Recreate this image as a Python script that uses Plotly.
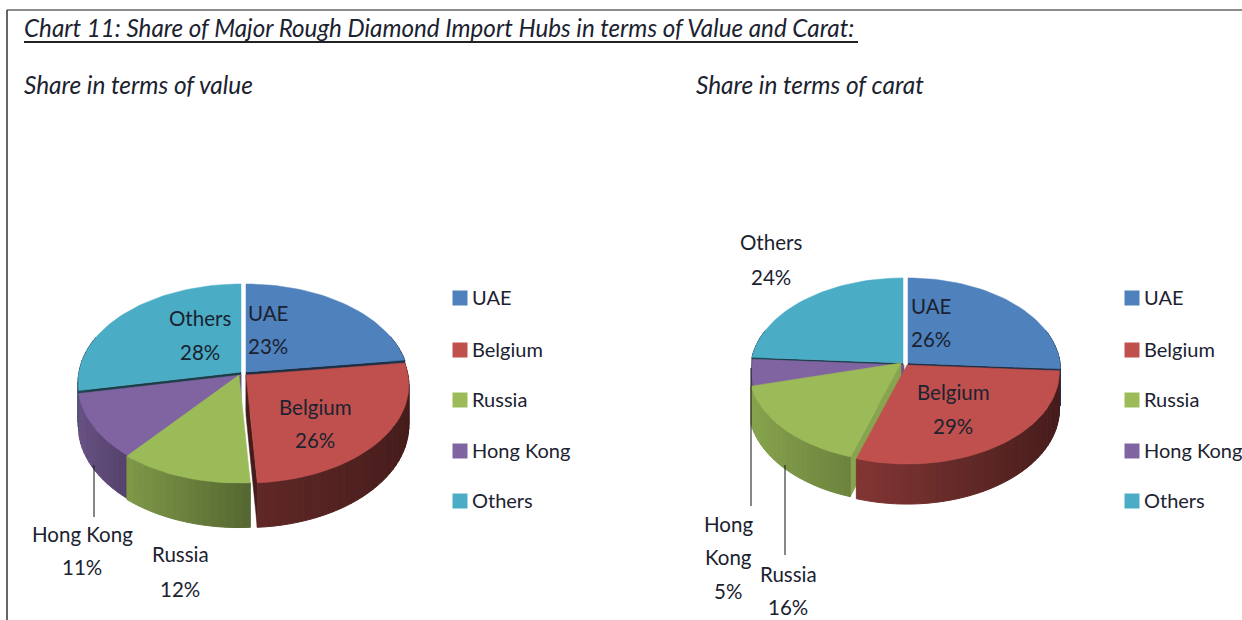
import math
import plotly.graph_objects as go

categories = ["UAE", "Belgium", "Russia", "Hong Kong", "Others"]
value_share = [23, 26, 12, 11, 28]
carat_share = [26, 29, 16, 5, 24]

COLORS = {"UAE": "#4F81BD", "Belgium": "#C0504D", "Russia": "#9BBB59",
          "Hong Kong": "#8064A2", "Others": "#4BACC6"}
TEXT = "#1b2230"
FONT = "Lato"
LABEL_SIZE = 20.5

PIES = [
    dict(shares=value_share, cx=244, cy=373, rx=162, ry=97, depth=40, k=0.102,
         offset={"UAE": (2, -1), "Belgium": (2, 2), "Russia": (-5, 2), "Hong Kong": (-3, 2), "Others": (-3, -1)},
         wall={"Belgium": (0.50, 0.36), "Russia": (0.82, 0.55), "Hong Kong": (0.82, 0.66)}),
    dict(shares=carat_share, cx=905, cy=364, rx=152, ry=91.5, depth=37, k=0.076,
         offset={"UAE": (3, -1), "Belgium": (2, 1), "Russia": (-4, -1), "Hong Kong": (-1, 1), "Others": (-2, -1)},
         wall={"Belgium": (0.68, 0.36), "Russia": (0.88, 0.70), "Hong Kong": (0.85, 0.7)}),
]
DRAW_ORDER = ["Others", "UAE", "Hong Kong", "Russia", "Belgium"]


def shade(color, f):
    r, g, b = (int(color[i:i + 2], 16) for i in (1, 3, 5))
    return f"rgb({int(r * f)},{int(g * f)},{int(b * f)})"


def project(p, ang, radius=1.0, off=(0, 0), drop=0.0):
    u, v = math.sin(ang) * radius, -math.cos(ang) * radius
    s = 1 / (1 - p["k"] * v)
    return (p["cx"] + off[0] + p["rx"] * u * s,
            p["cy"] + off[1] + p["ry"] * v * s + drop * s)


fig = go.Figure()


def poly(pts, color, width=1.0):
    fig.add_trace(go.Scatter(x=[q[0] for q in pts] + [pts[0][0]], y=[q[1] for q in pts] + [pts[0][1]],
                             mode="lines", fill="toself", fillcolor=color,
                             line=dict(color=color, width=width), hoverinfo="skip", showlegend=False))


for p in PIES:
    total = sum(p["shares"])
    bounds, acc = {}, 0
    for name, val in zip(categories, p["shares"]):
        bounds[name] = (acc / total * 2 * math.pi, (acc + val) / total * 2 * math.pi)
        acc += val
    for name in DRAW_ORDER:
        a, b = bounds[name]
        off, d, col = p["offset"][name], p["depth"], COLORS[name]
        wall = p["wall"].get(name, (0.42, 0.42))
        cut_walls = []
        if math.sin(a) < 0:
            cut_walls.append((a, wall[0] if name in p["wall"] else 0.36))
        if math.sin(b) > 0:
            cut_walls.append((b, 0.36))
        for edge, edge_f in cut_walls:
            poly([project(p, edge, 0, off), project(p, edge, 1, off),
                  project(p, edge, 1, off, d), project(p, edge, 0, off, d)], shade(col, edge_f), 0.5)
        n = max(2, int((b - a) / math.radians(2.5)))
        span = [a + (b - a) * i / n for i in range(n + 1)]
        xs = [math.sin(t) for t in span]
        lo, hi = min(xs), max(xs)
        for t0, t1 in zip(span, span[1:]):
            if max(-math.cos(t0), -math.cos(t1)) < -0.35:
                continue
            mid = (math.sin(t0) + math.sin(t1)) / 2
            w = (mid - lo) / (hi - lo or 1)
            poly([project(p, t0, 1, off), project(p, t1, 1, off),
                  project(p, t1, 1, off, d), project(p, t0, 1, off, d)],
                 shade(col, wall[0] + (wall[1] - wall[0]) * w))
        pts = [project(p, 0, 0, off)]
        m = max(8, int((b - a) / math.radians(2)))
        pts += [project(p, a + (b - a) * i / m, 1, off) for i in range(m + 1)]
        poly(pts, col, 0.5)

annotations = []


def text(x, y, s, size=LABEL_SIZE, anchor="center"):
    annotations.append(dict(x=x, y=y, text=s, showarrow=False, xref="x", yref="y", xanchor=anchor,
                            yanchor="middle", font=dict(family=FONT, size=size, color=TEXT)))


def label(x, ys, name, val):
    lines = name.split(" ") if len(ys) == 3 else [name]
    for y, s in zip(ys, lines + [f"{val}%"]):
        text(x, y, s)


val = dict(zip(categories, value_share))
car = dict(zip(categories, carat_share))
label(268, (313, 346), "UAE", val["UAE"])
label(200, (318, 352), "Others", val["Others"])
label(315, (407, 440), "Belgium", val["Belgium"])
label(180, (554, 589), "Russia", val["Russia"])
label(82, (534, 567), "Hong Kong", val["Hong Kong"])
label(771, (242, 277), "Others", car["Others"])
label(931, (306, 339), "UAE", car["UAE"])
label(953, (392, 426), "Belgium", car["Belgium"])
label(788, (574, 607), "Russia", car["Russia"])
label(728, (524, 557, 591), "Hong Kong", car["Hong Kong"])

text(22, 27, "<i>Chart 11: Share of Major Rough Diamond Import Hubs in terms of Value and Carat:</i>", 24.2, "left")
text(22, 84, "<i>Share in terms of value</i>", 24.4, "left")
text(694, 84, "<i>Share in terms of carat</i>", 24.4, "left")

LEGEND_Y = [297, 349, 399, 450, 500]
for mark_x in (460, 1132):
    fig.add_trace(go.Scatter(x=[mark_x] * len(categories), y=[y + 1 for y in LEGEND_Y], mode="markers",
                             marker=dict(symbol="square", size=15, color=[COLORS[c] for c in categories]),
                             hoverinfo="skip", showlegend=False))
    for y, c in zip(LEGEND_Y, categories):
        text(mark_x + 10, y, c, 20, "left")

shapes = [
    dict(type="line", x0=7, x1=1242, y0=10, y1=10, line=dict(color="#666666", width=1.5)),
    dict(type="line", x0=7, x1=7, y0=10, y1=620, line=dict(color="#333333", width=1.5)),
    dict(type="line", x0=24, x1=858, y0=42, y1=42, line=dict(color="#222222", width=2)),
    dict(type="line", x0=94, x1=94, y0=465, y1=517, line=dict(color="#111111", width=1)),
    dict(type="line", x0=751, x1=751, y0=368, y1=506, line=dict(color="#111111", width=1)),
    dict(type="line", x0=785, x1=785, y0=465, y1=555, line=dict(color="#111111", width=1)),
]

fig.update_layout(
    width=1242, height=620, margin=dict(l=0, r=0, t=0, b=0), showlegend=False,
    paper_bgcolor="white", plot_bgcolor="white", annotations=annotations, shapes=shapes,
    xaxis=dict(range=[0, 1242], visible=False, fixedrange=True),
    yaxis=dict(range=[620, 0], visible=False, fixedrange=True),
)
fig.write_html("out.html", post_script="document.body.style.margin='0';document.body.style.overflow='hidden';",
               config={"displayModeBar": False})
